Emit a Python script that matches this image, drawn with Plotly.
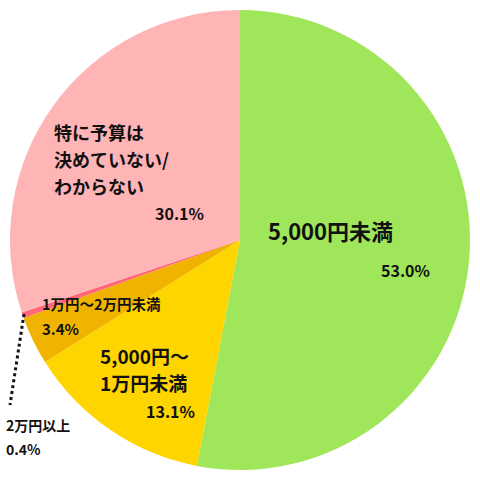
import plotly.graph_objects as go

categories = ["5,000円未満", "5,000円〜1万円未満", "1万円〜2万円未満", "2万円以上", "特に予算は決めていない/わからない"]
values = [53.0, 13.1, 3.4, 0.4, 30.1]
colors = ["#9fe65a", "#ffd500", "#f0b400", "#ff6678", "#ffb4b6"]

fig = go.Figure(go.Pie(
    labels=categories, values=values, sort=False, direction="clockwise", rotation=0,
    marker=dict(colors=colors, line=dict(width=0)),
    textinfo="none", hoverinfo="label+percent", showlegend=False,
    domain=dict(x=[10/480, 470/480], y=[10/480, 470/480]),
))

F = "Noto Sans CJK JP"
def ann(x, y, text, size, anchor="left"):
    fig.add_annotation(x=x/480, y=1-y/480, xref="paper", yref="paper", text=text,
                       showarrow=False, xanchor=anchor, yanchor="middle",
                       font=dict(family=F, size=size, color="#111"))

ann(266, 230, "<b>5,000円未満</b>", 22)
ann(432, 270, "<b>53.0%</b>", 16, "right")
ann(52, 132, "<b>特に予算は</b>", 18)
ann(52, 159, "<b>決めていない/</b>", 18)
ann(52, 186, "<b>わからない</b>", 18)
ann(206, 213, "<b>30.1%</b>", 16, "right")
ann(40, 303, "<b>1万円〜2万円未満</b>", 14.5)
ann(40, 328, "<b>3.4%</b>", 15)
ann(98, 355, "<b>5,000円〜</b>", 19)
ann(98, 382, "<b>1万円未満</b>", 19)
ann(197, 411, "<b>13.1%</b>", 16, "right")
ann(4, 425, "<b>2万円以上</b>", 14)
ann(4, 449, "<b>0.4%</b>", 14)

fig.add_shape(type="line", xref="paper", yref="paper",
              x0=24/480, y0=1-314/480, x1=10/480, y1=1-405/480,
              line=dict(color="#111", width=3, dash="dot"))

fig.update_layout(width=480, height=480, margin=dict(l=0, r=0, t=0, b=0),
                  paper_bgcolor="white", plot_bgcolor="white")
fig.write_html("out.html", config={"displayModeBar": False},
               post_script="document.body.style.margin='0';document.body.style.overflow='hidden';")
